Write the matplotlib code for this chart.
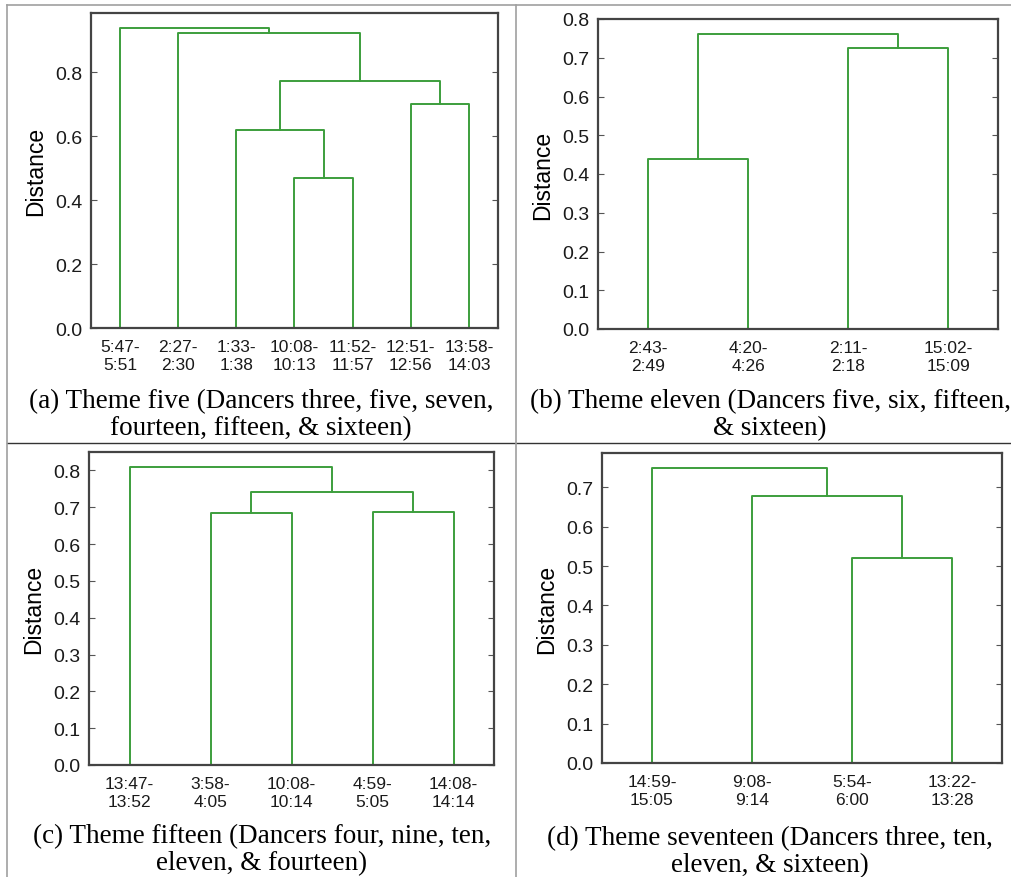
import numpy as np
import matplotlib
matplotlib.use('Agg')
from matplotlib import pyplot as plt
from matplotlib.lines import Line2D

# dendrogram data: leaf labels (in display order) and merges (a, b, height)
# ids < n are leaves, id n+k is the k-th merge
labels_a = ['5:47-\n5:51', '2:27-\n2:30', '1:33-\n1:38', '10:08-\n10:13',
            '11:52-\n11:57', '12:51-\n12:56', '13:58-\n14:03']
merges_a = [(3, 4, 0.470), (2, 7, 0.620), (5, 6, 0.702),
            (8, 9, 0.773), (1, 10, 0.923), (0, 11, 0.937)]

labels_b = ['2:43-\n2:49', '4:20-\n4:26', '2:11-\n2:18', '15:02-\n15:09']
merges_b = [(0, 1, 0.439), (2, 3, 0.726), (4, 5, 0.762)]

labels_c = ['13:47-\n13:52', '3:58-\n4:05', '10:08-\n10:14', '4:59-\n5:05',
            '14:08-\n14:14']
merges_c = [(1, 2, 0.683), (3, 4, 0.686), (5, 6, 0.742), (0, 7, 0.810)]

labels_d = ['14:59-\n15:05', '9:08-\n9:14', '5:54-\n6:00', '13:22-\n13:28']
merges_d = [(2, 3, 0.520), (1, 4, 0.678), (0, 5, 0.748)]

yticks_a = [0.0, 0.2, 0.4, 0.6, 0.8]
yticks_bcd = [0.0, 0.1, 0.2, 0.3, 0.4, 0.5, 0.6, 0.7, 0.8]

captions = [
    '(a) Theme five (Dancers three, five, seven,\nfourteen, fifteen, & sixteen)',
    '(b) Theme eleven (Dancers five, six, fifteen,\n& sixteen)',
    '(c) Theme fifteen (Dancers four, nine, ten,\neleven, & fourteen)',
    '(d) Theme seventeen (Dancers three, ten,\neleven, & sixteen)',
]

W, H = 1012, 878
fig = plt.figure(figsize=(W / 100, H / 100), dpi=100)
green = '#3c9e3c'


def box(x0, y0, x1, y1):
    # pixel box -> figure fraction rect
    return [x0 / W, 1 - y1 / H, (x1 - x0) / W, (y1 - y0) / H]


def dendro(ax, labels, merges, ymax, yticks):
    n = len(labels)
    pos = {i: 10 * i + 5 for i in range(n)}
    hgt = {i: 0.0 for i in range(n)}
    for k, (a, b, h) in enumerate(merges):
        xa, xb = pos[a], pos[b]
        ax.plot([xa, xa, xb, xb], [hgt[a], h, h, hgt[b]], color=green, lw=1.4)
        pos[n + k] = (xa + xb) / 2
        hgt[n + k] = h
    ax.set_xlim(0, 10 * n)
    ax.set_ylim(0, ymax)
    ax.set_xticks([10 * i + 5 for i in range(n)])
    ax.set_xticklabels(labels, family='Liberation Sans', fontsize=12.5,
                       linespacing=1.25, color='#1a1a1a')
    ax.set_yticks(yticks)
    ax.set_yticklabels(['%.1f' % t for t in yticks], family='Liberation Sans',
                       fontsize=14, color='#1a1a1a')
    ax.tick_params(axis='x', length=0, pad=8)
    ax.tick_params(axis='y', direction='in', right=True, length=4,
                   color='#555555', pad=6)
    for s in ax.spines.values():
        s.set_color('#444444')
        s.set_linewidth(1.6)
    ax.set_ylabel('Distance', family='Liberation Sans', fontsize=16.5,
                  labelpad=6)


ax1 = fig.add_axes(box(91, 14, 498, 329))
dendro(ax1, labels_a, merges_a, 0.985, yticks_a)
ax2 = fig.add_axes(box(598, 20, 998, 330))
dendro(ax2, labels_b, merges_b, 0.80, yticks_bcd)
ax3 = fig.add_axes(box(89, 453, 494, 766))
dendro(ax3, labels_c, merges_c, 0.85, yticks_bcd)
ax4 = fig.add_axes(box(602, 454, 1002, 764))
dendro(ax4, labels_d, merges_d, 0.787, yticks_bcd[:8])

# captions
cx = [261, 770, 262, 770]
cy = [415, 415, 850, 852]
for t, x, y in zip(captions, cx, cy):
    fig.text(x / W, 1 - y / H, t, family='Liberation Serif', fontsize=19.5,
             ha='center', va='center', linespacing=1.1)

# table borders
def hline(y, x0, x1, c, lw):
    fig.add_artist(Line2D([x0 / W, x1 / W], [1 - y / H, 1 - y / H],
                          color=c, lw=lw))

def vline(x, y0, y1, c, lw):
    fig.add_artist(Line2D([x / W, x / W], [1 - y0 / H, 1 - y1 / H],
                          color=c, lw=lw))

hline(6, 7.5, W, '#a0a0a0', 1.2)
hline(443.5, 7.5, W, '#333333', 1.0)
vline(7.5, 6, H, '#a0a0a0', 1.2)
vline(515.7, 6, H, '#a0a0a0', 1.2)

fig.savefig('out.png', dpi=100)
